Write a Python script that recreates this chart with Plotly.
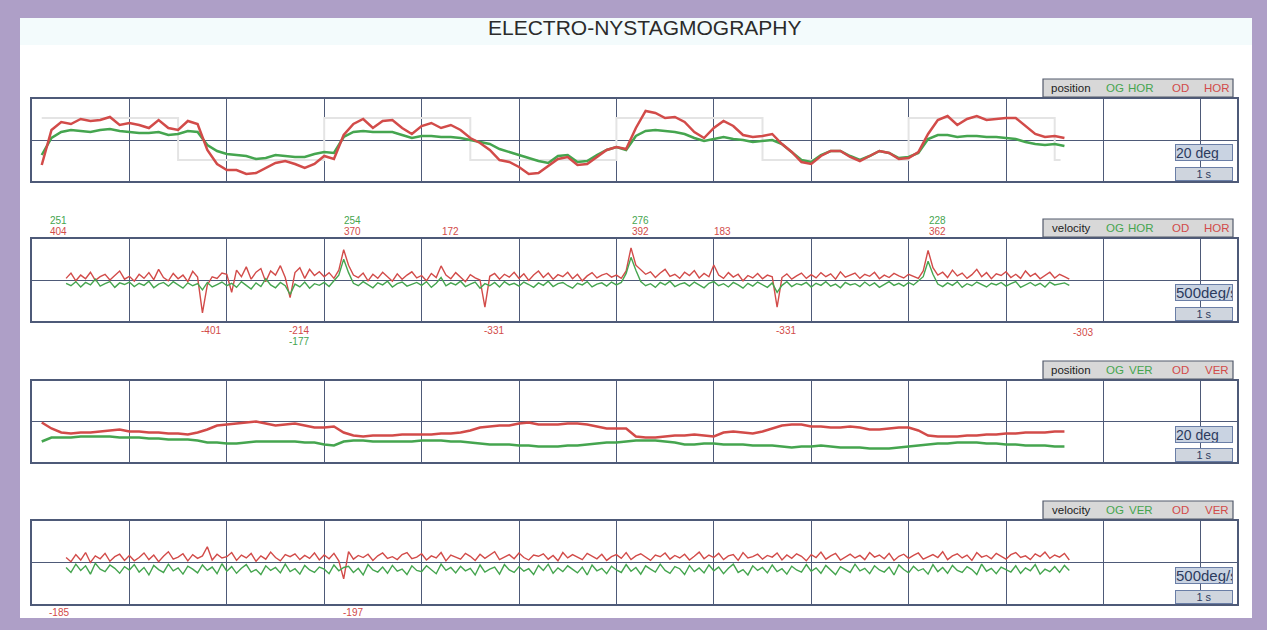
import numpy as np
import plotly.graph_objects as go

W, H = 1267, 630

# ---------------- data ----------------
# eye position (deg), one sample every 0.1 s starting at t = 0.1 s
pos_t0, pos_dt = 0.1, 0.1
pos_hor_od = [
    -25, 10, 18, 16, 21, 19, 20, 23, 15, 17,
    15, 12, 20, 12, 10, 19, 16, -10, -24, -30,
    -30, -34, -33, -28, -23, -21, -24, -28, -24, -16,
    -19, 5, 16, 21, 12, 19, 20, 12, 6, 14,
    17, 12, 15, 10, 2, -3, -10, -20, -22, -27,
    -34, -33, -26, -19, -17, -25, -24, -17, -10, -7,
    -9, 12, 29, 27, 22, 23, 18, 8, 2, 12,
    19, 14, 5, 3, 4, 6, -4, -12, -22, -24,
    -16, -11, -11, -17, -21, -16, -11, -13, -19, -18,
    -12, 6, 20, 24, 15, 21, 24, 20, 21, 22,
    22, 14, 6, 3, 4, 2,
]
pos_hor_og = [
    -15, 2, 8, 10, 9, 8, 10, 11, 9, 8,
    7, 7, 8, 5, 6, 9, 8, -5, -11, -14,
    -15, -16, -19, -18, -15, -16, -17, -17, -14, -12,
    -13, 3, 8, 9, 8, 8, 8, 5, 2, 4,
    4, 3, 3, 2, 0, -2, -4, -9, -12, -15,
    -18, -21, -23, -16, -15, -22, -21, -15, -10, -7,
    -10, 4, 9, 10, 9, 8, 6, 2, -1, 1,
    3, 1, 0, -2, -1, 0, -4, -12, -20, -22,
    -15, -11, -11, -16, -20, -16, -11, -13, -18, -17,
    -13, 1, 5, 5, 3, 4, 4, 3, 3, 2,
    1, -2, -4, -5, -4, -6,
]
pos_ver_od = [
    -1, -7, -11, -12, -11, -11, -10, -9, -8, -10,
    -10, -11, -11, -12, -12, -13, -11, -8, -4, -3,
    -2, -1, 0, -2, -4, -3, -2, -4, -6, -6,
    -5, -11, -14, -15, -14, -14, -14, -13, -13, -13,
    -13, -12, -12, -11, -9, -6, -5, -4, -4, -2,
    -1, -3, -3, -3, -2, -2, -3, -5, -7, -7,
    -7, -15, -16, -16, -15, -14, -14, -13, -14, -15,
    -11, -10, -11, -12, -10, -7, -4, -3, -3, -5,
    -5, -6, -6, -5, -6, -8, -8, -7, -6, -6,
    -9, -14, -15, -15, -15, -14, -14, -13, -13, -12,
    -12, -11, -11, -11, -10, -10,
]
pos_ver_og = [
    -20, -16, -16, -16, -15, -15, -15, -15, -16, -16,
    -16, -17, -17, -18, -18, -18, -19, -21, -21, -22,
    -22, -21, -20, -20, -20, -20, -20, -21, -21, -23,
    -24, -20, -19, -19, -20, -20, -20, -20, -20, -19,
    -19, -19, -20, -20, -21, -22, -23, -23, -23, -24,
    -24, -25, -25, -25, -24, -24, -23, -22, -21, -21,
    -20, -19, -19, -19, -20, -21, -23, -23, -22, -22,
    -23, -23, -23, -24, -24, -24, -25, -26, -25, -25,
    -24, -25, -26, -26, -26, -27, -27, -27, -26, -25,
    -24, -23, -22, -22, -21, -21, -21, -22, -22, -23,
    -23, -24, -24, -24, -25, -25,
]

# horizontal target steps (deg) at the switching times (s)
target_t = [0.1, 1.5, 3.0, 4.5, 6.0, 7.5, 9.0, 10.5, 10.56]
target_deg = [22, -20, 22, -20, 22, -20, 22, -20, -20]

# eye velocity (deg/s), one sample every 0.05 s starting at t = 0.35 s
vel_t0, vel_dt = 0.35, 0.05
vel_hor_od = [
    20, 85, -10, 60, 15, 95, -5, 40, 70, 0, 55, 110, 10,
    45, -15, 70, 20, 90, 5, 130, 30, -10, 80, 15, 60, -20, 105, 35, -401, -60, 40, 20, 85,
    70, -150, 120, 40, 160, 10, 95, 140, -20, 110, 60, 175, 30, -214, 90, 150, 20, 130, 55, 100,
    40, 90, 20, 120, 370, 180, 60, 30, 85, -10, 70, 20, 95, 40, -15, 75, 10, 60, 100, 25,
    55, -10, 80, 30, 172, 60, 15, 90, 40, -20, 65, 25, 0, -331, 45, 80, 10, 70, 35, 95,
    20, 75, -5, 60, 110, 30, 85, 10, 65, 40, 95, 15, 70, -10, 50, 90, 25, 60, 80, 35,
    60, 20, 110, 392, 180, 120, 70, 100, 30, 85, 130, 45, 70, 20, 95, 55, 115, 25, 80, 40,
    183, 60, 20, 90, 35, 70, -10, 55, 25, 80, 15, 60, 40, -331, 30, 75, 10, 50, 85, 20,
    65, 25, 90, 40, 75, 10, 100, 35, 60, 85, 20, 70, 45, 95, 15, 60, 30, 80, 50, 25,
    70, 40, 20, 110, 362, 150, 60, 95, 30, 120, 50, 85, 20, 65, 130, 40, 90, 15, 75, 55,
    100, 30, 70, 20, 110, 45, 80, 15, 60, 95, 25, 70, 40, 10,
]
vel_hor_og = [
    -40, -70, -20, -85, -30, -60, 10, -75, -45, -20, -90, -35, -55,
    -25, -80, -40, -65, -15, -95, -50, -30, -75, -20, -60, -100, -35, -70, -45, -120, -30, -85, -55, -25,
    -70, -40, -90, -20, -65, -110, -35, -80, 15, -60, -95, -30, -70, -177, -50, -85, -25, -100, -45, -65,
    -30, -80, -10, 60, 254, 90, -40, -70, -20, -55, -95, -35, -60, -15, -85, -45, -25, -75, -50, -30,
    -65, -20, -90, -40, 30, -70, -35, -60, -15, -80, -50, -25, -100, -45, -70, -30, -85, -20, -60, -40,
    -75, -25, -55, -90, -35, -65, -15, -80, -45, -30, -70, -100, -40, -60, -20, -85, -50, -35, -75, -25,
    -60, -30, 80, 276, 120, -20, -70, -45, -90, -30, -60, -15, -80, -50, -35, -75, -25, -65, -95, -40,
    -20, -70, -45, -85, -30, -60, -100, -40, -75, -25, -55, -90, -35, -150, -65, -20, -80, -45, -60, -30,
    -85, -40, -65, -20, -75, -50, -95, -30, -60, -45, -80, -25, -70, -35, -90, -55, -20, -65, -40, -75,
    -30, -60, -15, 40, 228, 70, -50, -80, -35, -65, -20, -90, -45, -70, -25, -55, -85, -40, -60, -30,
    -75, -45, -20, -90, -55, -30, -70, -40, -85, -25, -60, -50, -35, -65,
]
vel_ver_od = [
    60, 10, 95, 30, 120, 0, 80, 45, 110, 15, 70, 100, 25,
    85, 20, 60, 115, 35, 90, 10, 75, 130, 40, 65, 105, 20, 95, 50, 80, 190, 30, 100, 55,
    70, 120, 25, 90, 55, 110, 15, 80, 40, 125, 60, 20, 95, 70, 105, 35, 85, 50, 115, 30,
    90, 45, 110, 20, -197, 130, 40, 85, 60, 100, 25, 80, 115, 50, 70, 35, 95, 120, 45, 65,
    105, 30, 80, 55, 120, 20, 90, 65, 40, 110, 75, 25, 100, 50, 85, 130, 35, 70, 95, 45,
    115, 60, 30, 90, 75, 105, 40, 85, 20, 120, 55, 95, 65, 35, 110, 80, 45, 100, 25, 70,
    95, 50, 120, 35, 80, 105, 60, 25, 90, 70, 115, 40, 85, 55, 100, 30, 75, 125, 45, 90,
    60, 110, 35, 80, 95, 25, 120, 55, 70, 100, 40, 85, 65, 115, 30, 90, 50, 105, 75, 20,
    95, 60, 125, 40, 80, 110, 30, 70, 100, 55, 85, 35, 120, 65, 90, 45, 110, 25, 75, 100,
    50, 85, 115, 40, 70, 95, 60, 130, 35, 80, 105, 55, 90, 25, 120, 65, 85, 45, 110, 70,
    40, 95, 120, 60, 80, 35, 105, 70, 125, 50, 90, 65, 110, 30,
]
vel_ver_og = [
    -60, -120, -20, -95, -40, -140, -10, -80, -110, -30, -70, -130, -50,
    -90, -25, -115, -60, -150, -35, -85, -120, -20, -100, -65, -140, -45, -80, -125, -30, -95, -55, -135, -15,
    -105, -50, -130, -70, -25, -115, -85, -145, -40, -95, -60, -125, -20, -110, -75, -140, -35, -90, -120, -55,
    -80, -135, -30, -100, -60, -45, -120, -70, -150, -25, -90, -115, -55, -130, -35, -105, -80, -145, -40, -95,
    -110, -40, -85, -135, -20, -95, -60, -125, -45, -100, -70, -150, -30, -115, -80, -55, -140, -25, -90, -120,
    -50, -105, -75, -145, -35, -95, -20, -130, -65, -110, -40, -85, -125, -55, -150, -30, -100, -70, -135, -45,
    -90, -120, -25, -105, -60, -140, -40, -80, -115, -20, -95, -130, -50, -75, -145, -35, -110, -65, -125, -30,
    -100, -55, -135, -70, -20, -120, -85, -150, -40, -95, -60, -125, -30, -110, -75, -140, -45, -90, -115, -25,
    -105, -65, -130, -35, -95, -145, -50, -80, -120, -20, -100, -70, -135, -40, -90, -115, -55, -150, -30, -85,
    -125, -45, -100, -75, -140, -25, -110, -60, -130, -35, -95, -120, -50, -85, -145, -20, -105, -70, -135, -55,
    -90, -115, -40, -130, -65, -100, -25, -140, -80, -110, -50, -120, -35, -95,
]

# sample indices of the velocity extremes that get a value printed
hor_od_max_idx = [57, 77, 116, 133, 177]
hor_og_max_idx = [57, 116, 177]
hor_od_min_idx = [28, 46, 86, 146]
hor_og_min_idx = [46]
ver_od_min_idx = [57]
# summary values printed at the left / right ends of the record (s, value)
hor_start_og, hor_start_od, hor_start_t = 251, 404, 0.27
hor_end_od, hor_end_t = -303, 10.79
ver_start_od, ver_start_t = -185, 0.27

panel_titles = [
    ("position", "OG", "HOR", "OD", "HOR"),
    ("velocity", "OG", "HOR", "OD", "HOR"),
    ("position", "OG", "VER", "OD", "VER"),
    ("velocity", "OG", "VER", "OD", "VER"),
]
panel_scales = ["20 deg", "500deg/s", "20 deg", "500deg/s"]
scale_font = [14, 15, 14, 15]

# ---------------- styling ----------------
RED = "#d24b49"
GREEN = "#45a54f"
GRID = "#4e5a78"
PURPLE = "#ae9fc7"
FONT = "Liberation Sans Narrow, Liberation Sans, Arial, sans-serif"

LEFT_PX, RIGHT_PX, SEC_PX = 32, 1237, 97.4
T_MAX = (RIGHT_PX - LEFT_PX) / SEC_PX
rows_px = [(99, 181), (239, 321), (381, 462), (521, 604)]
y_ranges = [(-41, 41), (-500, 500), (-40.5, 40.5), (-500, 500)]


def fx(px):
    return px / W


def fy(py):
    return 1 - py / H


pos_t = pos_t0 + pos_dt * np.arange(len(pos_hor_od))
vel_t = vel_t0 + vel_dt * np.arange(len(vel_hor_od))

fig = go.Figure()


def add_line(k, t, y, color, width, shape="linear"):
    fig.add_trace(go.Scatter(
        x=t, y=y, mode="lines", xaxis=f"x{k}", yaxis=f"y{k}",
        line=dict(color=color, width=width, shape=shape),
        hoverinfo="skip", showlegend=False,
    ))


# panel 1: horizontal position with target
add_line(1, target_t, target_deg, "#e4e4e4", 2, shape="hv")
add_line(1, pos_t, pos_hor_og, GREEN, 2.5)
add_line(1, pos_t, pos_hor_od, RED, 2.5)
# panel 2: horizontal velocity
add_line(2, vel_t, vel_hor_od, RED, 1.4)
add_line(2, vel_t, vel_hor_og, GREEN, 1.4)
# panel 3: vertical position
add_line(3, pos_t, pos_ver_og, GREEN, 2.5)
add_line(3, pos_t, pos_ver_od, RED, 2.5)
# panel 4: vertical velocity
add_line(4, vel_t, vel_ver_od, RED, 1.4)
add_line(4, vel_t, vel_ver_og, GREEN, 1.4)

layout = dict(
    width=W, height=H,
    margin=dict(l=0, r=0, t=0, b=0),
    paper_bgcolor=PURPLE, plot_bgcolor="white",
    showlegend=False,
    font=dict(family=FONT, color="#222"),
)
for k, ((top, bot), yr) in enumerate(zip(rows_px, y_ranges), start=1):
    sfx = "" if k == 1 else str(k)
    layout[f"xaxis{sfx}"] = dict(
        domain=[fx(LEFT_PX), fx(RIGHT_PX)], range=[0, T_MAX], anchor=f"y{k}",
        showgrid=True, gridcolor=GRID, gridwidth=1.4, dtick=1, tick0=0,
        showline=True, linecolor=GRID, linewidth=1.6, mirror=True,
        showticklabels=False, ticks="", zeroline=False, fixedrange=True,
    )
    layout[f"yaxis{sfx}"] = dict(
        domain=[fy(bot), fy(top)], range=list(yr), anchor=f"x{k}",
        showgrid=False, zeroline=True, zerolinecolor=GRID, zerolinewidth=1.4,
        showline=True, linecolor=GRID, linewidth=1.6, mirror=True,
        showticklabels=False, ticks="", fixedrange=True,
    )
fig.update_layout(**layout)

shapes = [
    # white sheet inside the purple frame
    dict(type="rect", xref="paper", yref="paper", x0=fx(20), x1=fx(1252),
         y0=fy(618), y1=fy(18), fillcolor="white", line=dict(width=0), layer="below"),
    dict(type="rect", xref="paper", yref="paper", x0=fx(20), x1=fx(1252),
         y0=fy(45), y1=fy(18), fillcolor="#f3fbfc", line=dict(width=0), layer="below"),
]
annotations = [
    dict(text="ELECTRO-NYSTAGMOGRAPHY", x=fx(645), y=fy(28), xref="paper", yref="paper",
         showarrow=False, font=dict(size=21, color="#2b2b2b", family=FONT),
         xanchor="center", yanchor="middle"),
]

word_x = [1071, 1115, 1141, 1180, 1217]
word_col = ["#222222", GREEN, GREEN, RED, RED]
for (top, bot), words, scale, sfont in zip(rows_px, panel_titles, panel_scales, scale_font):
    # caption box above the panel
    shapes.append(dict(type="rect", xref="paper", yref="paper",
                       x0=fx(1043), x1=fx(1233), y0=fy(top - 2), y1=fy(top - 20),
                       fillcolor="#d8d8d8", line=dict(color="#535a6c", width=1.2)))
    for wx, w, c in zip(word_x, words, word_col):
        annotations.append(dict(text=w, x=fx(wx), y=fy(top - 11), xref="paper", yref="paper",
                                showarrow=False, font=dict(size=11.5, color=c, family=FONT),
                                xanchor="center", yanchor="middle"))
    mid = (top + bot) / 2
    # amplitude and time scale boxes
    annotations.append(dict(text=scale, x=fx(1204), y=fy(mid + 12.5), xref="paper", yref="paper",
                            showarrow=False, width=56, height=15, align="left",
                            bgcolor="#c9d3e2", bordercolor="#6a7ea6", borderwidth=1, borderpad=0,
                            font=dict(size=sfont, color="#2d3b5e", family=FONT),
                            xanchor="center", yanchor="middle"))
    annotations.append(dict(text="1 s", x=fx(1204), y=fy(bot - 7), xref="paper", yref="paper",
                            showarrow=False, width=56, height=12, align="center",
                            bgcolor="#cfd5de", bordercolor="#6a7ea6", borderwidth=1, borderpad=0,
                            font=dict(size=11, color="#2d3b5e", family=FONT),
                            xanchor="center", yanchor="middle"))


def value_label(k, t, val, py, color):
    annotations.append(dict(text=str(val), x=t, y=fy(py), xref=f"x{k}", yref="paper",
                            xshift=9, showarrow=False, font=dict(size=10, color=color, family=FONT),
                            xanchor="center", yanchor="middle"))


top2, bot2 = rows_px[1]
for i in hor_og_max_idx:
    value_label(2, vel_t[i], vel_hor_og[i], top2 - 19, GREEN)
for i in hor_od_max_idx:
    value_label(2, vel_t[i], vel_hor_od[i], top2 - 8, RED)
for i in hor_od_min_idx:
    value_label(2, vel_t[i], vel_hor_od[i], bot2 + 9, RED)
for i in hor_og_min_idx:
    value_label(2, vel_t[i], vel_hor_og[i], bot2 + 20, GREEN)
value_label(2, hor_start_t - 0.09, hor_start_og, top2 - 19, GREEN)
value_label(2, hor_start_t - 0.09, hor_start_od, top2 - 8, RED)
value_label(2, hor_end_t - 0.09, hor_end_od, bot2 + 11, RED)

top4, bot4 = rows_px[3]
for i in ver_od_min_idx:
    value_label(4, vel_t[i], vel_ver_od[i], bot4 + 8, RED)
value_label(4, ver_start_t - 0.09, ver_start_od, bot4 + 8, RED)

fig.update_layout(shapes=shapes, annotations=annotations)
fig.write_html("out.html")
